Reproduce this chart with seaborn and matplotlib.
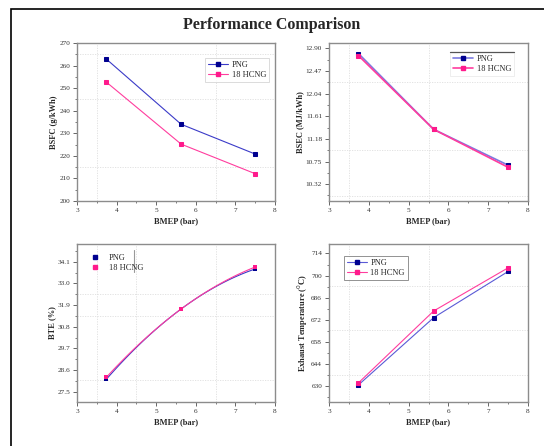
import matplotlib
matplotlib.use('Agg')
import matplotlib.pyplot as plt
import matplotlib.patches as mpatches
from matplotlib.ticker import MultipleLocator, FixedLocator
import seaborn as sns
import pandas as pd

# Data
bmep = [3.74, 5.63, 7.5]
bsfc_png = [262.9, 234.0, 220.8]
bsfc_hcng = [252.7, 225.2, 212.1]
bsec_png = [12.80, 11.36, 10.68]
bsec_hcng = [12.76, 11.36, 10.64]
bte_png = [28.13, 31.70, 33.73]
bte_hcng = [28.23, 31.70, 33.83]
egt_png = [630.8, 673.4, 702.6]
egt_hcng = [632.1, 677.6, 704.9]
fuels = ['PNG', '18 HCNG']

sns.set_theme(style='white')
plt.rcParams['font.family'] = ['Liberation Serif', 'DejaVu Serif']

png_line, png_mark = '#3b3bc8', '#00008f'
hcng_line, hcng_mark = '#ff3d9e', '#ff1a8c'
MS = 2.8


def long_df(png, hcng):
    return pd.DataFrame({
        'BMEP': bmep * 2,
        'val': list(png) + list(hcng),
        'Fuel': [fuels[0]] * 3 + [fuels[1]] * 3,
    })


def style_axes(ax, ylim, ystart, ystep, nt, yfmt, ylabel, gx, gy):
    ax.set_xlim(3, 8)
    ax.set_ylim(*ylim)
    ax.xaxis.set_major_locator(MultipleLocator(1))
    ax.xaxis.set_minor_locator(MultipleLocator(0.5))
    ax.yaxis.set_major_locator(FixedLocator([ystart + i * ystep for i in range(nt)]))
    ax.yaxis.set_minor_locator(FixedLocator([ystart + (i - 0.5) * ystep for i in range(nt + 1)]))
    ax.yaxis.set_major_formatter(plt.FuncFormatter(lambda v, p: yfmt.format(v)))
    ax.tick_params(which='major', direction='out', length=3, width=0.7,
                   color='#666666', labelsize=5.2, labelcolor='#333333', pad=2,
                   bottom=True, left=True)
    ax.tick_params(which='minor', direction='out', length=1.6, width=0.6,
                   color='#666666', bottom=True, left=True)
    for s in ax.spines.values():
        s.set_color('#8c8c8c')
        s.set_linewidth(1.0)
    for x in gx:
        ax.axvline(x, color='#dedede', lw=0.6, ls=(0, (1.5, 1.5)), zorder=0)
    for y in gy:
        ax.axhline(y, color='#dedede', lw=0.6, ls=(0, (1.5, 1.5)), zorder=0)
    ax.set_xlabel('BMEP (bar)', fontsize=6, fontweight='bold', labelpad=3)
    ax.set_ylabel(ylabel, fontsize=6, fontweight='bold', labelpad=1)


fig = plt.figure(figsize=(5.44, 4.46), dpi=100)
fig.patch.set_facecolor('white')
ax1 = fig.add_axes([0.1415, 0.5493, 0.364, 0.3543])
ax2 = fig.add_axes([0.6048, 0.5493, 0.3658, 0.3543])
ax3 = fig.add_axes([0.1415, 0.0987, 0.364, 0.3543])
ax4 = fig.add_axes([0.6048, 0.0987, 0.3658, 0.3543])

pal_line = {fuels[0]: png_line, fuels[1]: hcng_line}

# BSFC
sns.lineplot(data=long_df(bsfc_png, bsfc_hcng), x='BMEP', y='val', hue='Fuel',
             palette=pal_line, marker='s', markersize=MS, lw=0.8, ax=ax1,
             legend=False)
for ln, mc in zip(ax1.lines, [png_mark, hcng_mark]):
    ln.set_markerfacecolor(mc)
    ln.set_markeredgecolor(mc)
style_axes(ax1, (200, 270), 200, 10, 8, '{:.0f}', 'BSFC (g/kWh)',
           [3.5, 6.5], [215, 245, 265])

# BSEC
sns.lineplot(data=long_df(bsec_png, bsec_hcng), x='BMEP', y='val', hue='Fuel',
             palette={fuels[0]: '#7b7be0', fuels[1]: hcng_line}, marker='s',
             markersize=MS, lw=1.2, ax=ax2, legend=False)
for ln, mc in zip(ax2.lines, [png_mark, hcng_mark]):
    ln.set_markerfacecolor(mc)
    ln.set_markeredgecolor(mc)
style_axes(ax2, (10.0, 13.0), 10.32, 0.43, 7, '{:.2f}', 'BSEC (MJ/kWh)',
           [3.5, 5.5], [10.10, 10.96, 12.26])

# BTE
for vals, lc in [(bte_png, png_line), (bte_hcng, hcng_line)]:
    sns.regplot(x=bmep, y=vals, order=2, ci=None, scatter=False, truncate=True,
                line_kws={'color': lc, 'lw': 0.8}, ax=ax3)
sns.scatterplot(data=long_df(bte_png, bte_hcng), x='BMEP', y='val', hue='Fuel',
                palette={fuels[0]: png_mark, fuels[1]: hcng_mark}, marker='s',
                s=9, linewidth=0, ax=ax3, legend=False, zorder=5)
style_axes(ax3, (26.98, 35.0), 27.5, 1.1, 7, '{:.1f}', 'BTE (%)',
           [3.5, 4.5, 6.5], [28.09, 31.33, 32.46])

# Exhaust temperature
sns.lineplot(data=long_df(egt_png, egt_hcng), x='BMEP', y='val', hue='Fuel',
             palette={fuels[0]: '#5a5ad6', fuels[1]: hcng_line}, marker='s',
             markersize=MS, lw=0.8, ax=ax4, legend=False)
for ln, mc in zip(ax4.lines, [png_mark, hcng_mark]):
    ln.set_markerfacecolor(mc)
    ln.set_markeredgecolor(mc)
style_axes(ax4, (620, 720), 630, 14, 7, '{:.0f}', 'Exhaust Temperature ($^0$C)',
           [3.5, 5.5], [637.2, 665.3, 693.3])


# legends
def make_handles(lcs, mcs, lw, line=True):
    hs = []
    for lc, mc, name in zip(lcs, mcs, fuels):
        hs.append(plt.Line2D([], [], color=lc, lw=lw if line else 0, marker='s',
                             markersize=2.8, markerfacecolor=mc,
                             markeredgecolor=mc, label=name))
    return hs


leg_kw = dict(fontsize=6, handlelength=2.4, handletextpad=0.4, borderpad=0.35,
              labelspacing=0.25, fancybox=False)
l1 = ax1.legend(handles=make_handles([png_line, hcng_line], [png_mark, hcng_mark], 0.8),
                loc='upper right', bbox_to_anchor=(0.99, 0.93), **leg_kw)
l1.get_frame().set_edgecolor('#cccccc')
l1.get_frame().set_linewidth(0.6)

l2 = ax2.legend(handles=make_handles(['#7b7be0', hcng_line], [png_mark, hcng_mark], 1.2),
                loc='upper right', bbox_to_anchor=(0.95, 0.97), **leg_kw)
l2.get_frame().set_edgecolor('#e6e6e6')
l2.get_frame().set_linewidth(0.6)

l3 = ax3.legend(handles=make_handles([png_line, hcng_line], [png_mark, hcng_mark], 0, line=False),
                loc='upper left', bbox_to_anchor=(0.02, 0.98), frameon=False,
                fontsize=6, handlelength=1.6, handletextpad=0.9, borderpad=0.35,
                labelspacing=0.25)
ax3.plot([0.29, 0.29], [0.82, 0.96], transform=ax3.transAxes,
         color='#999999', lw=0.8)

l4 = ax4.legend(handles=make_handles(['#5a5ad6', hcng_line], [png_mark, hcng_mark], 0.8),
                loc='upper left', bbox_to_anchor=(0.055, 0.95), **leg_kw)
l4.get_frame().set_edgecolor('#777777')
l4.get_frame().set_linewidth(0.7)

fig.text(0.5, 0.944, 'Performance Comparison', ha='center', va='center',
         fontsize=11.5, fontweight='bold')

fig.patches.append(mpatches.Rectangle((11 / 544, -0.05), 1.0, 1.03,
                                      transform=fig.transFigure, fill=False,
                                      edgecolor='black', lw=1.2))

# dark top edge on the BSEC legend box
fig.canvas.draw()
bb = l2.get_frame().get_window_extent().transformed(fig.transFigure.inverted())
fig.add_artist(plt.Line2D([bb.x0, bb.x1], [bb.y1, bb.y1], transform=fig.transFigure,
                          color='#555555', lw=0.9))

fig.savefig('out.png', dpi=100)
